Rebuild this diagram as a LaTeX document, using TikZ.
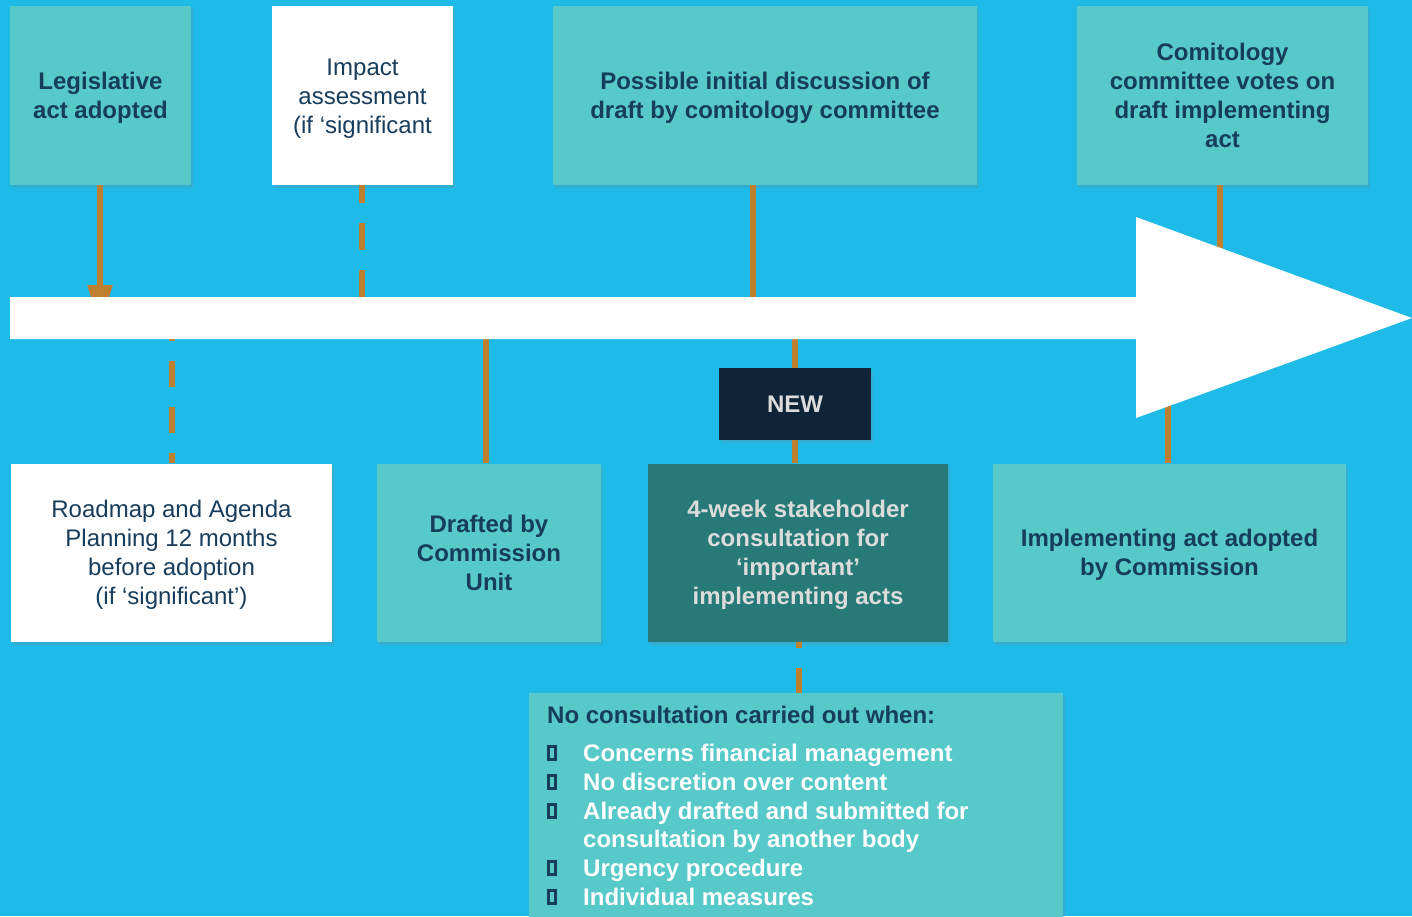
\documentclass[tikz,border=0pt]{standalone}
\usepackage{fontspec}
\setmainfont{Liberation Sans}
\usetikzlibrary{arrows.meta,shadows}
\definecolor{bg}{HTML}{1EBBE9}
\definecolor{tealbox}{HTML}{56C9C8}
\definecolor{darkteal}{HTML}{277A78}
\definecolor{navy}{HTML}{173D5D}
\definecolor{newfill}{HTML}{0F2437}
\definecolor{linkcol}{HTML}{BE7F2E}
\definecolor{lightgrey}{HTML}{DCDCDC}
\newcommand\lnstrut{\rule[-5pt]{0pt}{27.2pt}}
\begin{document}
\begin{tikzpicture}[x=1pt,y=-1pt,
  box/.style={rectangle, inner sep=0pt, align=center, text=navy,
    font=\fontsize{24}{29}\selectfont,
    drop shadow={shadow xshift=2pt,shadow yshift=-3pt,opacity=.22}},
  tbox/.style={box, fill=tealbox, font=\fontsize{24}{29}\selectfont\bfseries},
  wbox/.style={box, fill=white},
  dbox/.style={box, fill=darkteal, text=lightgrey, font=\fontsize{24}{29}\selectfont\bfseries},
  link/.style={draw=linkcol, line width=6pt},
  dashlink/.style={link, dash pattern=on 27pt off 20pt},
  bultext/.style={anchor=base west, inner sep=0pt, text=white, font=\fontsize{24}{29}\selectfont\bfseries},
  bulbox/.style={draw=navy, line width=2.5pt}
]
\useasboundingbox (0,0) rectangle (1412,916);
\fill[bg] (0,0) rectangle (1412,916);

% top row
\node[tbox, minimum width=181pt, minimum height=179pt] (leg) at (100.5,95.5) {\lnstrut Legislative\\act adopted\lnstrut};
\node[wbox, minimum width=181pt, minimum height=179pt] (imp) at (362.5,95.5) {\lnstrut Impact\\assessment\\(if ‘significant\lnstrut};
\node[tbox, minimum width=424pt, minimum height=179pt] (pos) at (765,95.5) {\lnstrut Possible initial discussion of\\draft by comitology committee\lnstrut};
\node[tbox, minimum width=291pt, minimum height=179pt] (com) at (1222.5,95.5) {\lnstrut Comitology\\committee votes on\\draft implementing\\act\lnstrut};

% bottom row
\node[wbox, minimum width=321pt, minimum height=178pt] (road) at (171.5,552.5) {\lnstrut Roadmap and Agenda\\Planning 12 months\\before adoption\\(if ‘significant’)\lnstrut};
\node[tbox, minimum width=224pt, minimum height=178pt] (draft) at (489,552.5) {\lnstrut Drafted by\\Commission\\Unit\lnstrut};
\node[dbox, minimum width=300pt, minimum height=178pt] (cons) at (798,552.5) {\lnstrut 4-week stakeholder\\consultation for\\‘important’\\implementing acts\lnstrut};
\node[tbox, minimum width=353pt, minimum height=178pt] (impl) at (1169.5,552.5) {\lnstrut Implementing act adopted\\by Commission\lnstrut};
\node[box, fill=newfill, text=lightgrey, font=\fontsize{24}{29}\selectfont\bfseries, minimum width=152pt, minimum height=72pt] (new) at (795,404) {\lnstrut NEW};
\node[box, fill=tealbox, anchor=north west, minimum width=534pt, minimum height=240pt] (nocons) at (529,693) {};

% coordinates on the timeline arrow
\coordinate (tL) at (100,326);
\coordinate (tI) at (362,297);
\coordinate (tP) at (753,297);
\coordinate (tC) at (1220,260);
\coordinate (bR) at (172,339);
\coordinate (bD) at (486,339);
\coordinate (bN) at (795,339);
\coordinate (bM) at (1168,400);
\coordinate (xC) at (799,0);

% connectors
\draw[link, -{Triangle[length=41pt,width=24pt]}] (leg.south -| tL) -- (tL);
\draw[dashlink, dash phase=9pt] (imp.south -| tI) -- (tI);
\draw[link] (pos.south -| tP) -- (tP);
\draw[link] (com.south -| tC) -- (tC);
\draw[link, dash pattern=on 26pt off 20pt, dash phase=24pt] (bR) -- (road.north -| bR);
\draw[link] (bD) -- (draft.north -| bD);
\draw[link] (bN) -- (new.north);
\draw[link] (new.south) -- (cons.north -| new.south);
\draw[link] (bM) -- (impl.north -| bM);
\draw[dashlink, dash phase=21pt] (cons.south -| xC) -- (nocons.north -| xC);

% timeline arrow
\fill[white] (10,297) -- (1136,297) -- (1136,217) -- (1412,318) -- (1136,418) -- (1136,339) -- (10,339) -- cycle;

% list in bottom box
\node[anchor=base west, inner sep=0pt, text=navy, font=\fontsize{24}{29}\selectfont\bfseries] (title) at (547,723) {No consultation carried out when:};
\node[bultext] (b1) at (583,761) {Concerns financial management};
\node[bultext] (b2) at (583,790) {No discretion over content};
\node[bultext] (b3) at (583,819) {Already drafted and submitted for};
\node[bultext] (b3b) at (583,847) {consultation by another body};
\node[bultext] (b4) at (583,876) {Urgency procedure};
\node[bultext] (b5) at (583,905) {Individual measures};
\foreach \yy in {761,790,819,876,905} {
  \draw[bulbox] (548.5,\yy-14.5) rectangle (555.5,\yy-1.5);
}
\end{tikzpicture}
\end{document}
